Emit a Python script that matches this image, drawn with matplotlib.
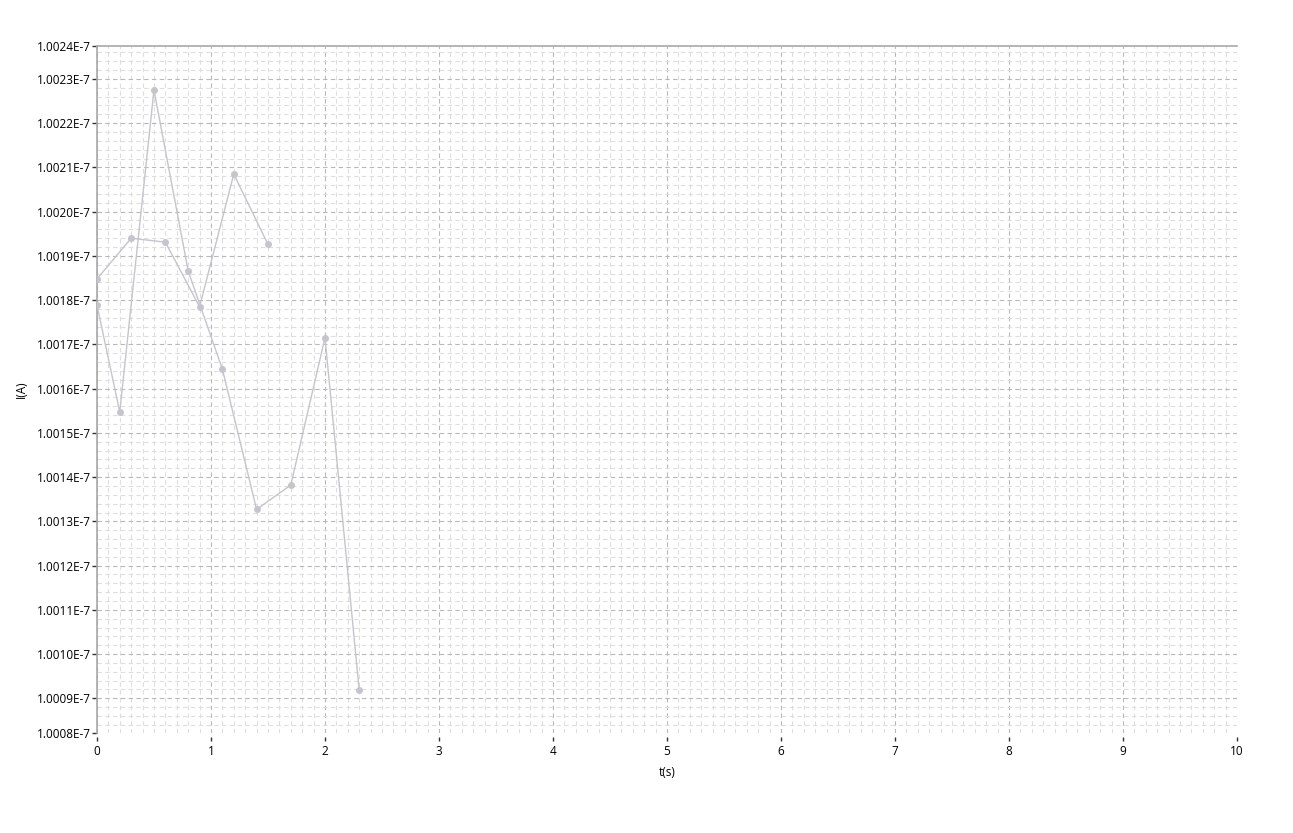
import numpy as np
import matplotlib
matplotlib.use("Agg")
import matplotlib.pyplot as plt
from matplotlib.ticker import MultipleLocator, FuncFormatter, FixedLocator

plt.rcParams['font.family'] = ['Open Sans', 'DejaVu Sans']

# данные (I в единицах 1e-7 A)
t_a = [0.0, 0.3, 0.6, 0.9, 1.2, 1.5]
i_a = [1.001848, 1.001940, 1.001931, 1.001785, 1.002085, 1.001926]
t_b = [0.0, 0.2, 0.5, 0.8, 1.1, 1.4, 1.7, 2.0, 2.3]
i_b = [1.001789, 1.001547, 1.002275, 1.001866, 1.001644, 1.001327, 1.001382, 1.001715, 1.000919]

y_lo, y_hi = 1.000821e-7, 1.002375e-7
y_major = [1.0009 + 0.0001 * k for k in range(15)]

fig = plt.figure(figsize=(12.93, 8.33), dpi=100)
ax = fig.add_axes([0.075, 0.1197, 0.8817, 0.8254])

col = '#c4c5cd'
for t, v in [(t_a, i_a), (t_b, i_b)]:
    ax.plot(t, np.array(v) * 1e-7, color=col, lw=1.0, marker='o', ms=4,
            mec=col, mfc=col, zorder=3)

ax.set_xlim(0, 10)
ax.set_ylim(y_lo, y_hi)

ax.xaxis.set_major_locator(MultipleLocator(1))
ax.xaxis.set_minor_locator(MultipleLocator(0.1))
ax.yaxis.set_major_locator(FixedLocator([y_lo] + [v * 1e-7 for v in y_major] + [y_hi]))
ax.yaxis.set_minor_locator(MultipleLocator(2e-12))
ax.yaxis.set_major_formatter(FuncFormatter(lambda v, p: f"{v * 1e7:.4f}E-7"))

ax.set_axisbelow(True)
ax.grid(which='minor', color='#dedede', lw=0.8, linestyle=(0, (4, 3)))
ax.grid(which='major', color='#b8b8b8', lw=0.8, linestyle=(0, (4, 3)))

# без линий сетки на краях
ax.xaxis.get_gridlines()[-1].set_visible(False)
ax.yaxis.get_gridlines()[0].set_visible(False)
ax.yaxis.get_gridlines()[-1].set_visible(False)

ax.spines['right'].set_visible(False)
ax.spines['bottom'].set_color('none')
ax.spines['bottom'].set_position(('outward', 2.5))
ax.spines['left'].set_color('#a8a8a8')
ax.spines['top'].set_color('#a8a8a8')
ax.spines['left'].set_linewidth(1.2)
ax.spines['top'].set_linewidth(1.2)

ax.tick_params(which='minor', length=0)
ax.tick_params(axis='y', which='major', length=3.5, width=1, color='#333333', pad=1, labelsize=8.5)
ax.tick_params(axis='x', which='major', length=3, width=1, color='#333333', pad=3, labelsize=8.5)

ax.set_xlabel("t(s)", fontsize=8.5, labelpad=6)
ax.set_ylabel("I(A)", fontsize=8.5, labelpad=6)

fig.savefig("out.png", dpi=100)
